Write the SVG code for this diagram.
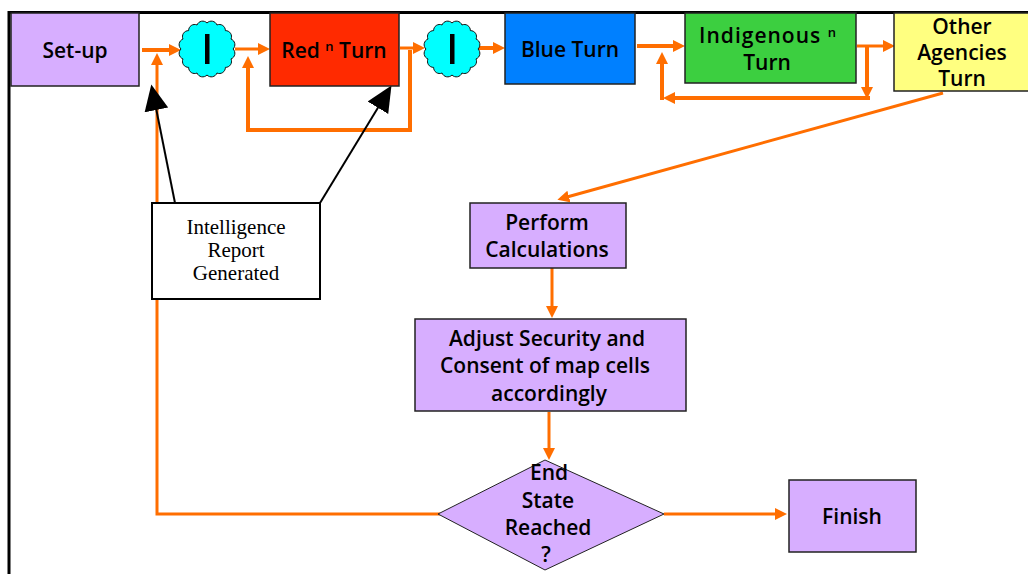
<svg xmlns="http://www.w3.org/2000/svg" width="1028" height="574" viewBox="0 0 1028 574">
  <style>
    .box { stroke: #222; stroke-width: 1.5; }
    .lbl { font-family: "Open Sans", "DejaVu Sans", sans-serif; font-weight: 600; font-size: 21px; fill: #000; text-anchor: middle; }
    .serif { font-family: "Liberation Serif", "Times New Roman", serif; font-size: 21px; fill: #000; text-anchor: middle; }
    .flow { fill: none; stroke: #FF6E00; }
    .ptr { fill: none; stroke: #000; stroke-width: 2; }
  </style>
  <defs>
    <marker id="ah" markerUnits="userSpaceOnUse" markerWidth="14" markerHeight="14" refX="2" refY="6" orient="auto">
      <path d="M0,0 L12,6 L0,12 z" fill="#FF6E00"/>
    </marker>
    <marker id="bh" markerUnits="userSpaceOnUse" markerWidth="28" markerHeight="26" refX="2" refY="12" orient="auto">
      <path d="M0,0 L26,12 L0,24 z" fill="#000"/>
    </marker>
    <!-- scalloped connector disc -->
    <path id="scallop" d="M26,0 A6,6 0 0 1 24.02,9.95 A6,6 0 0 1 18.38,18.38 A6,6 0 0 1 9.95,24.02 A6,6 0 0 1 0,26 A6,6 0 0 1 -9.95,24.02 A6,6 0 0 1 -18.38,18.38 A6,6 0 0 1 -24.02,9.95 A6,6 0 0 1 -26,0 A6,6 0 0 1 -24.02,-9.95 A6,6 0 0 1 -18.38,-18.38 A6,6 0 0 1 -9.95,-24.02 A6,6 0 0 1 0,-26 A6,6 0 0 1 9.95,-24.02 A6,6 0 0 1 18.38,-18.38 A6,6 0 0 1 24.02,-9.95 A6,6 0 0 1 26,0 z" fill="#00FFFF" stroke="#111" stroke-width="1"/>
  </defs>

  <rect width="1028" height="574" fill="#fff"/>
  <!-- page frame -->
  <path d="M9,574 L9,12.5 L1028,12.5" fill="none" stroke="#000" stroke-width="3"/>

  <g id="connectors">
    <line class="flow" stroke-width="4" x1="142" y1="50" x2="171" y2="50" marker-end="url(#ah)"/>
    <line class="flow" stroke-width="3" x1="235" y1="49" x2="260" y2="49" marker-end="url(#ah)"/>
    <line class="flow" stroke-width="3" x1="400" y1="48" x2="415" y2="48" marker-end="url(#ah)"/>
    <line class="flow" stroke-width="4" x1="479" y1="48" x2="495" y2="48" marker-end="url(#ah)"/>
    <line class="flow" stroke-width="4" x1="637" y1="46" x2="675" y2="46" marker-end="url(#ah)"/>
    <line class="flow" stroke-width="3" x1="857" y1="46" x2="885" y2="46" marker-end="url(#ah)"/>
    <!-- red retry loop -->
    <polyline class="flow" stroke-width="4" points="410,50 410,130 248,130 248,66" marker-end="url(#ah)"/>
    <!-- indigenous retry loop -->
    <polyline class="flow" stroke-width="4" points="867,46 867,89" marker-end="url(#ah)"/>
    <line class="flow" stroke-width="4" x1="870" y1="98" x2="673" y2="98" marker-end="url(#ah)"/>
    <polyline class="flow" stroke-width="4" points="662,100 662,62" marker-end="url(#ah)"/>
    <!-- other agencies to calculations -->
    <line class="flow" stroke-width="3" x1="943" y1="93" x2="567" y2="197" marker-end="url(#ah)"/>
    <line class="flow" stroke-width="3" x1="552" y1="268" x2="552" y2="308" marker-end="url(#ah)"/>
    <line class="flow" stroke-width="3" x1="549" y1="412" x2="549" y2="450" marker-end="url(#ah)"/>
    <line class="flow" stroke-width="3" x1="664" y1="514" x2="777" y2="514" marker-end="url(#ah)"/>
    <!-- end-state loop back to start -->
    <polyline class="flow" stroke-width="3" points="440,514 157,514 157,63" marker-end="url(#ah)"/>
    <!-- intelligence report pointers -->
    <line class="ptr" x1="175" y1="203" x2="156" y2="108" marker-end="url(#bh)"/>
    <line class="ptr" x1="320" y1="203" x2="379" y2="106" marker-end="url(#bh)"/>
  </g>

  <g id="setup">
    <rect class="box" x="11" y="13" width="128" height="73" fill="#D7AEFF"/>
    <text class="lbl" x="75" y="58">Set-up</text>
  </g>

  <g id="intel1">
    <use href="#scallop" x="207" y="49"/>
    <rect x="205" y="34" width="4.5" height="30" fill="#000"/>
  </g>

  <g id="red">
    <rect class="box" x="270" y="13" width="129" height="73" fill="#FF2A00"/>
    <text class="lbl" x="334" y="58">Red <tspan font-size="13" dy="-7">n</tspan><tspan dy="7"> Turn</tspan></text>
  </g>

  <g id="intel2">
    <use href="#scallop" x="452" y="49"/>
    <rect x="450" y="34" width="4.5" height="30" fill="#000"/>
  </g>

  <g id="blue">
    <rect class="box" x="505" y="13" width="130" height="71" fill="#0080FF" stroke="#003a80"/>
    <text class="lbl" x="570" y="57">Blue Turn</text>
  </g>

  <g id="indigenous">
    <rect class="box" x="685" y="13" width="171" height="70" fill="#3CCF40"/>
    <text class="lbl" x="768" y="43" letter-spacing="1">Indigenous <tspan font-size="13" dy="-6">n</tspan></text>
    <text class="lbl" x="767" y="70">Turn</text>
  </g>

  <g id="others">
    <rect class="box" x="894" y="13" width="140" height="78" fill="#FFFF80"/>
    <text class="lbl" x="962" y="34">Other</text>
    <text class="lbl" x="962" y="60">Agencies</text>
    <text class="lbl" x="962" y="86">Turn</text>
  </g>

  <g id="intelligence-report">
    <rect x="152" y="203" width="168" height="96" fill="#fff" stroke="#000" stroke-width="2"/>
    <text class="serif" x="236" y="234">Intelligence</text>
    <text class="serif" x="236" y="257">Report</text>
    <text class="serif" x="236" y="280">Generated</text>
  </g>

  <g id="calculations">
    <rect class="box" x="470" y="203" width="156" height="65" fill="#D7AEFF"/>
    <text class="lbl" x="547" y="230">Perform</text>
    <text class="lbl" x="547" y="257">Calculations</text>
  </g>

  <g id="adjust">
    <rect class="box" x="415" y="319" width="271" height="92" fill="#D7AEFF"/>
    <text class="lbl" x="547" y="346">Adjust Security and</text>
    <text class="lbl" x="545" y="373">Consent of map cells</text>
    <text class="lbl" x="549" y="401">accordingly</text>
  </g>

  <g id="end-state">
    <polygon points="545,460 664,514 545,570 438,514" fill="#D7AEFF" stroke="#222" stroke-width="1"/>
    <text class="lbl" x="549" y="480">End</text>
    <text class="lbl" x="548" y="508">State</text>
    <text class="lbl" x="548" y="535">Reached</text>
    <text class="lbl" x="546" y="562">?</text>
  </g>

  <g id="finish">
    <rect class="box" x="789" y="480" width="127" height="72" fill="#D7AEFF"/>
    <text class="lbl" x="852" y="524">Finish</text>
  </g>
</svg>
